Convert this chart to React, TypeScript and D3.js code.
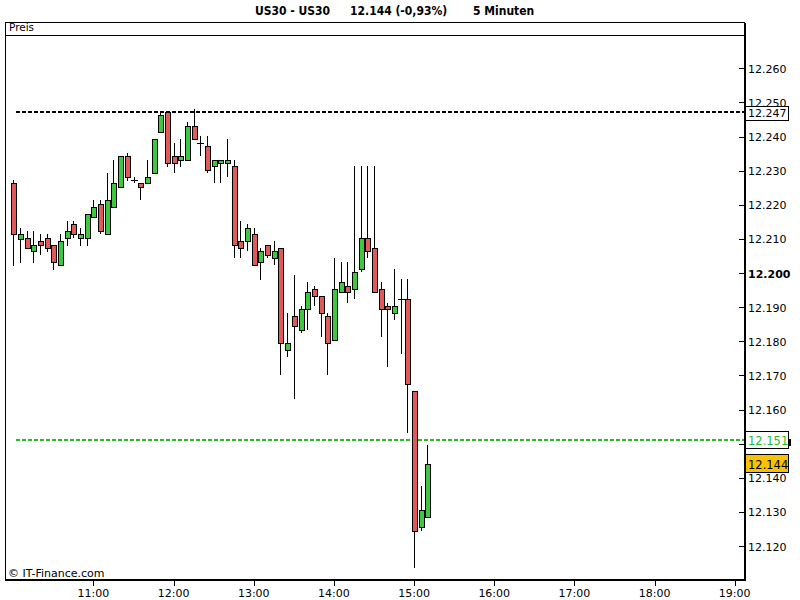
import React from "react";
import * as d3 from "d3";

// ---- data (values in index points; axis shows them with German thousands separator) ----
const startTime = "10:00";
const opens = [
  12226.3, 12210.1, 12210.2, 12206.4, 12209.3, 12210.2, 12208.1, 12202.3, 12210.2, 12214.3,
  12210.2, 12210.2, 12216.3, 12220.1, 12211.3, 12219.3, 12225.1, 12234.2, 12227.2, 12226.3,
  12226.3, 12229.2, 12241.2, 12247.1, 12234.2, 12233.1, 12233.1, 12243.0, 12238.0, 12237.1,
  12231.3, 12232.2, 12232.2, 12231.3, 12209.3, 12209.3, 12211.3, 12203.1, 12208.1, 12204.3,
  12207.2, 12177.4, 12187.3, 12183.2, 12189.4, 12195.2, 12193.2, 12187.3, 12180.3, 12194.4,
  12196.1, 12195.2, 12201.1, 12210.2, 12207.2, 12195.2, 12190.3, 12188.2, 12192.3, 12192.3,
  12165.3, 12125.5, 12128.4,
];
const highs = [
  12227.3, 12213.1, 12212.3, 12212.3, 12211.3, 12211.3, 12208.1, 12211.3, 12215.2, 12215.2,
  12213.1, 12217.2, 12221.4, 12221.4, 12229.3, 12233.1, 12234.2, 12235.1, 12228.1, 12226.3,
  12233.1, 12239.2, 12247.5, 12247.1, 12238.0, 12239.2, 12244.2, 12248.0, 12240.1, 12240.1,
  12233.1, 12233.1, 12239.2, 12233.1, 12215.2, 12214.3, 12213.1, 12207.2, 12208.1, 12209.3,
  12207.2, 12188.2, 12199.3, 12190.3, 12197.4, 12196.2, 12193.2, 12188.2, 12204.3, 12203.1,
  12203.1, 12231.3, 12231.3, 12231.3, 12231.3, 12197.3, 12191.1, 12201.1, 12198.2, 12198.2,
  12165.3, 12137.5, 12149.5,
];
const lows = [
  12202.1, 12203.0, 12207.2, 12203.0, 12205.2, 12206.2, 12201.0, 12202.3, 12208.0, 12210.2,
  12208.0, 12208.0, 12216.3, 12211.3, 12211.3, 12219.3, 12225.1, 12227.1, 12226.3, 12221.3,
  12226.3, 12229.2, 12241.2, 12231.2, 12229.2, 12231.2, 12233.1, 12239.2, 12234.2, 12229.2,
  12226.3, 12226.3, 12228.1, 12204.3, 12204.3, 12206.4, 12202.3, 12198.0, 12204.3, 12202.3,
  12170.2, 12175.3, 12163.2, 12182.3, 12183.2, 12190.3, 12181.2, 12170.2, 12180.3, 12194.4,
  12191.1, 12192.3, 12200.2, 12204.3, 12194.4, 12181.2, 12172.4, 12186.1, 12176.2, 12153.2,
  12113.5, 12124.3, 12128.4,
];
const closes = [
  12211.3, 12211.3, 12207.2, 12208.1, 12208.1, 12207.2, 12203.1, 12209.3, 12212.2, 12211.3,
  12211.3, 12217.2, 12219.3, 12212.2, 12221.4, 12226.4, 12234.2, 12228.1, 12227.2, 12225.1,
  12228.1, 12239.2, 12246.3, 12232.2, 12232.2, 12234.2, 12243.0, 12239.2, 12238.0, 12230.1,
  12233.1, 12233.1, 12233.1, 12208.1, 12207.2, 12213.1, 12202.3, 12206.4, 12205.2, 12206.4,
  12179.4, 12179.4, 12184.4, 12189.4, 12194.4, 12193.2, 12188.2, 12179.4, 12195.2, 12197.3,
  12194.4, 12200.2, 12210.2, 12206.4, 12194.4, 12189.4, 12189.4, 12190.3, 12192.3, 12167.4,
  12124.3, 12130.5, 12144.0,
];
// tick values; labels hidden behind the level boxes in the reference are listed separately
const yTicks = [12120, 12130, 12140, 12150, 12160, 12170, 12180, 12190, 12200, 12210, 12220, 12230, 12240, 12250, 12260];
const yTickLabelsHidden = [12150];
const xTickLabels = ["11:00", "12:00", "13:00", "14:00", "15:00", "16:00", "17:00", "18:00", "19:00"];
const resistanceLevel = 12247;
const supportLevel = 12151;
const lastPrice = 12144;
const titleParts = ["US30 - US30", "12.144 (-0,93%)", "5 Minuten"];
const panelLabel = "Preis";
const copyright = "© IT-Finance.com";

const RED = "#E05A5A";
const GREEN = "#3EC83E";
const LINE_GREEN = "#28BA28";
const FONT = "'DejaVu Sans', Verdana, sans-serif";

const toMin = (s: string) => {
  const [h, m] = s.split(":").map(Number);
  return h * 60 + m;
};
const fmt = (v: number) => {
  const s = Math.round(v).toString();
  return s.slice(0, s.length - 3) + "." + s.slice(s.length - 3);
};

export default function App() {
  const W = 800;
  const H = 600;
  const left = 5;
  const right = 745;
  const top = 22;
  const bottom = 579;

  const t0 = toMin(startTime);
  const x = d3.scaleLinear().domain([toMin("10:00"), toMin("19:00")]).range([13.3, 734.7]);
  const y = d3.scaleLinear().domain([12120, 12260]).range([546, 68.3]);

  const candles = opens.map((o, i) => ({
    t: t0 + i * 5,
    o,
    h: highs[i],
    l: lows[i],
    c: closes[i],
  }));

  const crisp = (v: number) => Math.round(v) + 0.5;

  return (
    <svg
      width={W}
      height={H}
      style={{ position: "absolute", left: 0, top: 0, background: "#fff" }}
      fontFamily={FONT}
    >
      <rect x={0} y={0} width={W} height={H} fill="#fff" />
      {/* title */}
      <g fontFamily="'DejaVu Sans Condensed', 'DejaVu Sans', sans-serif" fontSize={12} fontWeight="bold" fill="#000">
        <text x={255} y={15}>{titleParts[0]}</text>
        <text x={350} y={15}>{titleParts[1]}</text>
        <text x={473} y={15}>{titleParts[2]}</text>
      </g>

      {/* frame */}
      <g shapeRendering="crispEdges" stroke="#000">
        <line x1={left} x2={right} y1={top + 0.5} y2={top + 0.5} />
        <line x1={left} x2={right} y1={35.5} y2={35.5} />
        <line x1={left + 0.5} x2={left + 0.5} y1={top} y2={bottom + 1} />
      </g>
      <text x={9} y={31} fontSize={10.5} fill="#000">{panelLabel}</text>

      {/* dashed levels */}
      <line
        x1={16}
        x2={right}
        y1={Math.round(y(resistanceLevel)) - 1}
        y2={Math.round(y(resistanceLevel)) - 1}
        stroke="#000"
        strokeWidth={2}
        strokeDasharray="4,2"
        shapeRendering="crispEdges"
      />
      <line
        x1={16}
        x2={right}
        y1={Math.round(y(supportLevel))}
        y2={Math.round(y(supportLevel))}
        stroke={LINE_GREEN}
        strokeWidth={2}
        strokeDasharray="4,2"
        shapeRendering="crispEdges"
      />

      {/* candles */}
      <g shapeRendering="crispEdges">
        {candles.map((d, i) => {
          const cx = Math.round(x(d.t));
          const yo = y(d.o);
          const yc = y(d.c);
          const yt = Math.round(Math.min(yo, yc));
          const yb = Math.round(Math.max(yo, yc));
          const up = d.c > d.o;
          const doji = yb - yt < 1;
          return (
            <g key={i}>
              <line x1={cx + 0.5} x2={cx + 0.5} y1={Math.round(y(d.h))} y2={Math.round(y(d.l))} stroke="#000" />
              {doji ? (
                <line x1={cx - 3} x2={cx + 4} y1={yt + 0.5} y2={yt + 0.5} stroke="#000" />
              ) : (
                <rect
                  x={cx - 2 + 0.5}
                  y={yt + 0.5}
                  width={5}
                  height={yb - yt}
                  fill={up ? GREEN : RED}
                  stroke="#000"
                />
              )}
            </g>
          );
        })}
      </g>

      {/* right axis */}
      <g shapeRendering="crispEdges">
        <rect x={744} y={top + 1} width={2} height={bottom - top + 1} fill="#000" />
        <rect x={left} y={bottom} width={right - left + 1} height={2} fill="#000" />
        {yTicks.map((v) => (
          <line key={v} x1={739} x2={744} y1={crisp(y(v))} y2={crisp(y(v))} stroke="#000" />
        ))}
      </g>
      {yTicks
        .filter((v) => !yTickLabelsHidden.includes(v))
        .map((v) => (
          <text
            key={v}
            x={748}
            y={y(v) + 1}
            dominantBaseline="central"
            fontSize={11}
            fontWeight={v === 12200 ? "bold" : "normal"}
            fill="#000"
          >
            {fmt(v)}
          </text>
        ))}

      {/* bottom axis */}
      <g shapeRendering="crispEdges">
        {xTickLabels.map((s) => (
          <line key={s} x1={crisp(x(toMin(s)))} x2={crisp(x(toMin(s)))} y1={581} y2={586} stroke="#000" />
        ))}
      </g>
      {xTickLabels.map((s) => (
        <text key={s} x={x(toMin(s))} y={597} textAnchor="middle" fontSize={11} fill="#000">
          {s}
        </text>
      ))}

      {/* price boxes */}
      <g>
        <rect x={745.5} y={Math.round(y(resistanceLevel)) - 6.5} width={43} height={14} fill="#fff" stroke="#000" shapeRendering="crispEdges" />
        <text x={748} y={y(resistanceLevel) + 1} dominantBaseline="central" fontSize={11} fill="#000">
          {fmt(resistanceLevel)}
        </text>
        <rect x={745.5} y={Math.round(y(supportLevel)) - 8.5} width={43} height={17} fill="#fff" stroke="#000" shapeRendering="crispEdges" />
        <line x1={789.5} x2={789.5} y1={Math.round(y(supportLevel)) - 1} y2={Math.round(y(supportLevel)) + 6} stroke="#000" strokeWidth={2} shapeRendering="crispEdges" />
        <text x={748} y={y(supportLevel) + 1} dominantBaseline="central" fontSize={11.5} fill={LINE_GREEN}>
          {fmt(supportLevel)}
        </text>
        <rect x={745.5} y={Math.round(y(lastPrice)) - 9.5} width={43} height={18} fill="#F8C200" stroke="#000" shapeRendering="crispEdges" />
        <text x={748} y={y(lastPrice) + 0.5} dominantBaseline="central" fontSize={11.5} fill="#000">
          {fmt(lastPrice)}
        </text>
      </g>

      <text x={8} y={577} fontSize={11} fill="#000">{copyright}</text>
    </svg>
  );
}
